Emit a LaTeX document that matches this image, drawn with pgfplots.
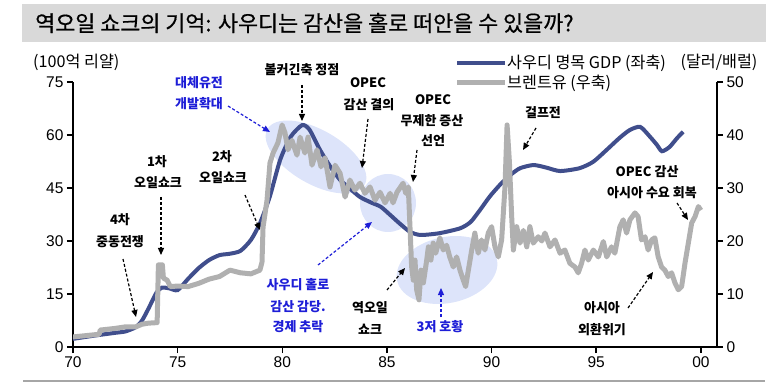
\documentclass[border=0pt]{standalone}
\usepackage{pgfplots}
\pgfplotsset{compat=1.18}
\usepackage{fontspec}
\setmainfont{Noto Sans CJK KR}
\newfontfamily\titlefont[FakeBold=0.6]{Noto Sans CJK KR}
\newfontfamily\lib{Liberation Sans}
\usetikzlibrary{arrows.meta}
\definecolor{navy}{RGB}{64,78,140}
\definecolor{brent}{RGB}{176,176,176}
\definecolor{ell}{RGB}{221,228,250}
\definecolor{annblue}{RGB}{30,30,215}
\definecolor{barg}{RGB}{217,217,217}
\definecolor{lineg}{RGB}{166,166,166}
\tikzset{
  ann/.style={font=\fontsize{13}{15}\selectfont\bfseries, inner sep=0pt},
  arr/.style={line width=1.2pt, dash pattern=on 3pt off 2pt, -{Triangle[length=7pt,width=6pt]}},
}
\begin{document}
\begin{tikzpicture}[x=1pt,y=1pt]
\begin{scope}[shift={(0,383)},yscale=-1]
\useasboundingbox (0,0) rectangle (784,383);
\fill[barg] (22,4) rectangle (766,42);
\draw[line width=2.5pt, lineg] (23,381)--(765,381);
\fill[ell, rotate around={30:(316,157)}] (316,157) ellipse (56 and 27);
\fill[ell] (388,203) ellipse (28 and 29);
\fill[ell, rotate around={-12:(447,270)}] (447,270) ellipse (51 and 33);
\end{scope}

\begin{axis}[
  at={(73pt,36pt)}, anchor=south west,
  width=644pt, height=265pt, scale only axis,
  xmin=70, xmax=100.77, ymin=0, ymax=75,
  axis y line*=left, axis x line*=bottom,
  xtick={70,75,80,85,90,95,100},
  xticklabels={70,75,80,85,90,95,00},
  ytick={0,15,30,45,60,75},
  tick align=outside, major tick length=6pt,
  axis line style={line width=1.8pt, black},
  tick style={line width=1.5pt, black},
  tick label style={font=\lib\fontsize{15.5}{18}\selectfont},
  /pgf/number format/assume math mode=true,
]
\addplot[navy, line width=4pt, smooth, tension=0.4] coordinates {
(70.0,2.3) (71.0,3.2) (72.0,4.0) (72.5,4.4) (73.0,5.6) (73.3,7.5) (73.6,10.8) (74.0,15.5) (74.25,16.8) (74.6,16.6) (75.0,16.1) (75.5,19.3) (76.0,22.3) (76.5,24.6) (77.0,26.0) (77.5,26.4) (78.0,27.2) (78.5,30.3) (78.93,35) (79.4,42.5) (79.9,53) (80.4,59.5) (80.95,62.8) (81.3,61.5) (81.8,55.8) (82.3,51) (82.76,47.3) (83.2,45) (83.7,42.5) (84.2,41) (84.7,39.7) (85.15,37.4) (85.6,35) (86.1,32.6) (86.6,31.7) (87.5,32.2) (88.5,33.6) (89.0,35.4) (89.45,38.8) (89.9,42.5) (90.4,45.9) (90.9,48.7) (91.36,50.6) (92.0,51.5) (92.6,50.8) (93.27,49.8) (94.2,50.6) (94.85,52.4) (95.5,55.8) (96.1,59.1) (96.6,61.4) (97.1,62.3) (97.57,59.5) (97.9,57.2) (98.14,55.4) (98.5,56.6) (98.86,59.1) (99.15,60.9)
};
\end{axis}

\begin{axis}[
  at={(73pt,36pt)}, anchor=south west,
  width=644pt, height=265pt, scale only axis,
  xmin=70, xmax=100.77, ymin=0, ymax=50,
  axis y line*=right, axis x line=none,
  ytick={0,10,20,30,40,50},
  tick align=outside, major tick length=6pt,
  axis line style={line width=1.8pt, black},
  tick style={line width=1.5pt, black},
  tick label style={font=\lib\fontsize{15.5}{18}\selectfont},
  /pgf/number format/assume math mode=true,
]
\addplot[brent, line width=5pt, line join=round] coordinates {
(70.0,1.9) (71.0,2.3) (71.25,2.4) (71.3,3.2) (72.0,3.5) (72.5,3.8) (73.0,3.8) (73.3,4.3) (73.6,4.5) (74.02,4.6) (74.08,15.5) (74.27,15.5) (74.32,13.0) (74.5,12.6) (74.65,11.4) (75.0,11.5) (75.5,11.4) (76.0,12.0) (76.5,12.8) (77.0,13.3) (77.5,14.5) (78.0,14.0) (78.5,13.8) (78.93,14.5) (79.03,16.0) (79.08,22.6) (79.27,27.7) (79.41,34.7) (79.56,36.6) (79.79,38.5) (79.99,41.9) (80.13,40.4) (80.27,37.2) (80.46,39.0) (80.70,36.2) (80.85,39.6) (81.08,36.6) (81.23,39.6) (81.42,34.3) (81.66,37.2) (81.85,34.0) (82.04,35.7) (82.28,30.2) (82.52,34.3) (82.76,32.8) (83.00,28.3) (83.23,31.5) (83.47,29.6) (83.71,30.9) (83.95,29.0) (84.19,30.2) (84.43,27.7) (84.67,29.2) (84.91,27.2) (85.15,29.0) (85.29,27.2) (85.48,29.2) (85.77,30.9) (85.90,29.0) (86.02,30.2) (86.10,22.7) (86.18,15.1) (86.26,12.6) (86.34,16.4) (86.42,10.8) (86.53,8.9) (86.63,14.5) (86.74,12.1) (86.90,16.4) (86.98,18.9) (87.10,16.4) (87.21,19.6) (87.33,17.7) (87.53,20.6) (87.69,18.3) (87.85,19.2) (88.00,17.0) (88.17,15.1) (88.33,17.0) (88.49,14.5) (88.65,12.6) (88.76,11.4) (88.89,14.5) (89.05,18.3) (89.20,21.5) (89.36,17.7) (89.52,20.2) (89.68,18.3) (89.84,21.5) (90.00,22.7) (90.16,18.9) (90.32,17.0) (90.48,20.2) (90.64,30.2) (90.74,41.9) (90.85,35.0) (90.96,24.6) (91.04,18.3) (91.20,22.7) (91.36,19.6) (91.52,22.0) (91.68,18.9) (91.83,22.7) (91.99,19.6) (92.23,20.8) (92.40,20.0) (92.55,21.5) (92.79,18.9) (93.03,20.2) (93.27,17.7) (93.50,18.3) (93.74,15.8) (93.98,15.1) (94.14,14.0) (94.30,15.8) (94.46,18.3) (94.62,16.4) (94.86,18.3) (95.10,17.0) (95.34,19.9) (95.50,17.0) (95.73,18.9) (95.89,17.7) (96.13,22.7) (96.29,24.0) (96.45,21.5) (96.61,24.0) (96.85,25.3) (97.00,24.6) (97.16,20.2) (97.33,20.8) (97.48,18.3) (97.65,20.2) (97.80,20.6) (97.96,17.0) (98.12,15.1) (98.28,14.5) (98.44,13.3) (98.60,14.0) (98.76,12.1) (98.92,10.8) (99.08,11.4) (99.24,15.8) (99.40,19.6) (99.56,23.4) (99.72,24.6) (99.88,26.5) (100.0,25.8)
};
\end{axis}

\begin{scope}[shift={(0,383)},yscale=-1]
% title
\node[anchor=west, inner sep=0pt, font=\titlefont\fontsize{21.8}{26}\selectfont] at (35,23) {역오일 쇼크의 기억: 사우디는 감산을 홀로 떠안을 수 있을까?};
% axis unit labels
\node[anchor=west, inner sep=0pt, font=\fontsize{16.2}{19}\selectfont] at (33,62) {(100억 리얄)};
\node[inner sep=0pt, font=\fontsize{16.2}{19}\selectfont] at (719,62) {(달러/배럴)};
% legend
\draw[navy, line width=4pt] (457,63)--(505,63);
\draw[brent, line width=5pt] (457,83)--(505,83);
\node[anchor=west, inner sep=0pt, font=\fontsize{16.2}{19}\selectfont] at (507,63) {사우디 명목 GDP (좌축)};
\node[anchor=west, inner sep=0pt, font=\fontsize{16.2}{19}\selectfont] at (507,83) {브렌트유 (우축)};
% annotations
\node[ann, annblue] at (199,83) {대체유전};
\node[ann, annblue] at (199,104) {개발확대};
\draw[arr, annblue] (228,106)--(270,132);
\node[ann] at (302,70) {볼커긴축 정점};
\draw[arr] (302,85)--(302,121);
\node[ann] at (368,83) {OPEC};
\node[ann] at (369,105) {감산 결의};
\draw[arr] (368,119)--(362,168);
\node[ann] at (433,100) {OPEC};
\node[ann] at (432,121) {무제한 증산};
\node[ann] at (433,141) {선언};
\draw[arr] (417,150)--(413,182);
\node[ann] at (543,113) {걸프전};
\draw[arr] (536,128)--(523,150);
\node[ann] at (157,162) {1차};
\node[ann] at (158,183) {오일쇼크};
\draw[arr] (161,197)--(161,255);
\node[ann] at (222,157) {2차};
\node[ann] at (223,178) {오일쇼크};
\draw[arr] (245,195)--(260,230);
\node[ann] at (120,220) {4차};
\node[ann] at (120,242) {중동전쟁};
\draw[arr] (123,259)--(136,317);
\node[ann, annblue] at (298,285) {사우디 홀로};
\node[ann, annblue] at (298,307) {감산 감당.};
\node[ann, annblue] at (298,327) {경제 추락};
\draw[arr, annblue] (318,265)--(372,222);
\node[ann] at (370,308) {역오일};
\node[ann] at (370,329) {쇼크};
\draw[arr] (387,290)--(405,268);
\node[ann, annblue] at (440,327) {3저 호황};
\draw[arr, annblue] (441,317)--(441,288);
\node[ann] at (647,172) {OPEC 감산};
\node[ann] at (652,193) {아시아 수요 회복};
\draw[arr] (677,203)--(688,220);
\node[ann] at (602,308) {아시아};
\node[ann] at (602,330) {외환위기};
\draw[arr] (628,308)--(653,272);
\end{scope}
\end{tikzpicture}
\end{document}
